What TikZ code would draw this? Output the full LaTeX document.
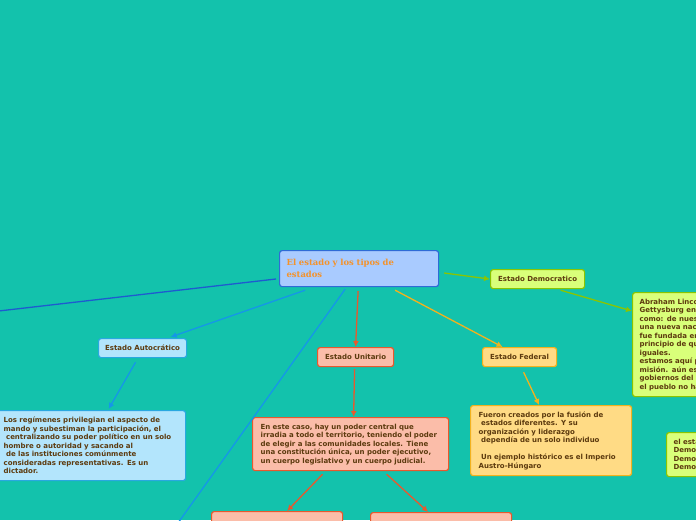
\documentclass[tikz,border=0pt]{standalone}
\usepackage{fontspec}
\setmainfont{DejaVu Sans}
\newfontfamily\titlefont{DejaVu Serif}
\usetikzlibrary{arrows.meta,calc}
\definecolor{bgc}{HTML}{13C2AC}
\definecolor{txt}{HTML}{5C3A0E}
\definecolor{tfill}{HTML}{A9CBFF}
\definecolor{tdraw}{HTML}{2F6BD6}
\definecolor{torange}{HTML}{F4922A}
\definecolor{gfill}{HTML}{D9FF7A}
\definecolor{gdraw}{HTML}{8BC500}
\definecolor{bfill}{HTML}{B3E5FC}
\definecolor{bdraw}{HTML}{29A8E0}
\definecolor{bline}{HTML}{1597E8}
\definecolor{rfill}{HTML}{FBBDA9}
\definecolor{rdraw}{HTML}{E8592E}
\definecolor{yfill}{HTML}{FFDB85}
\definecolor{ydraw}{HTML}{F2B21E}
\definecolor{dblue}{HTML}{1E5BD0}
\tikzset{
  box/.style={rectangle, rounded corners=2.5pt, line width=1.2pt, anchor=north west,
    inner sep=0pt, text=txt, font=\bfseries\fontsize{7}{8.5}\selectfont},
  labelbox/.style={box, align=center},
  textbox/.style={box, align=left, inner xsep=7pt},
  conn/.style={line width=1.3pt, -{Latex[length=6pt,width=6pt]}},
  plain/.style={line width=1.3pt},
}
\newcommand{\lsp}{\hspace*{2.5pt}}
\begin{document}
\begin{tikzpicture}[x=1pt,y=-1pt]
\fill[bgc] (0,0) rectangle (696,520);
\useasboundingbox (0,0) rectangle (696,520);
\clip (0,0) rectangle (696,520);

% main
\node[box, fill=tfill, draw=tdraw, minimum width=159pt, minimum height=36pt, align=left,
  text width=145pt, inner xsep=7pt, text=torange, font=\titlefont\bfseries\fontsize{8.4}{12}\selectfont]
  (main) at (279,250) {El estado y los tipos de\\estados};

% democratic branch
\node[labelbox, fill=gfill, draw=gdraw, minimum width=94pt, minimum height=19pt]
  (demo) at (490,269) {Estado Democratico};
\node[textbox, fill=gfill, draw=gdraw, minimum width=110pt, minimum height=104pt, text width=100pt]
  (abra) at (632,292) {Abraham Lincoln en su\\Gettysburg en 1863\\como:  de nuestros\\una nueva nación\\fue fundada en\\principio de que\\iguales.\\estamos aquí para\\misión. aún es\\gobiernos del pueblo\\el pueblo no ha};
\node[textbox, fill=gfill, draw=gdraw, minimum width=80pt, minimum height=44pt, text width=70pt]
  (elest) at (666,432) {el estado\\Democracia\\Democracia\\Democracia};

% autocratic branch
\node[labelbox, fill=bfill, draw=bdraw, minimum width=88pt, minimum height=19pt]
  (auto) at (98,338) {Estado Autocrático};
\node[textbox, fill=bfill, draw=bdraw, minimum width=190pt, minimum height=70pt, text width=186pt, inner xsep=2pt]
  (autot) at (-5,410) {\hspace*{6pt}Los regímenes  privilegian el aspecto de\\\hspace*{6pt}mando y subestiman la participación, el\\\hspace*{6pt}\lsp centralizando su poder político en un solo\\\hspace*{6pt}hombre o autoridad y sacando al\\\hspace*{6pt}\lsp de las instituciones comúnmente\\\hspace*{6pt}consideradas representativas. Es un\\\hspace*{6pt}dictador.};

% unitario branch
\node[labelbox, fill=rfill, draw=rdraw, minimum width=76pt, minimum height=19pt]
  (unit) at (317,347) {Estado Unitario};
\node[textbox, fill=rfill, draw=rdraw, minimum width=192pt, minimum height=53pt, text width=180pt, inner xsep=8pt]
  (unitt) at (252,417) {En este caso, hay un poder central que\\irradia a todo el territorio, teniendo el poder\\de elegir a las comunidades locales. Tiene\\una constitución única, un poder ejecutivo,\\un cuerpo legislativo y un cuerpo judicial.};
\node[box, fill=rfill, draw=rdraw, minimum width=129pt, minimum height=30pt, text width=115pt, inner xsep=8pt, align=left]
  (unitl) at (211,511) {\vspace*{-20pt}Estado Unitario Centralizado\\\ };
\node[box, fill=rfill, draw=rdraw, minimum width=141pt, minimum height=30pt]
  (unitr) at (370,512) {};

% federal branch
\node[labelbox, fill=yfill, draw=ydraw, minimum width=74pt, minimum height=19pt]
  (fed) at (482,347) {Estado Federal};
\node[textbox, fill=yfill, draw=ydraw, minimum width=156pt, minimum height=70pt, text width=145pt, inner xsep=8pt]
  (fedt) at (470,405) {Fueron creados por la fusión de\\\lsp estados diferentes. Y su\\organización y liderazgo\\\lsp dependía de un solo individuo\\[8.5pt]\lsp Un ejemplo histórico es el Imperio\\Austro-Húngaro};

% off-picture ends
\coordinate (farleft) at (-10,312);
\coordinate (farbottom) at (178,523);

% connectors
\draw[dblue, plain] ($(main.west |- 0,279)+(-3,0)$) -- (farleft);
\draw[bline, plain] ($(main.south)+(-14,2)$) -- (farbottom);
\draw[conn, gdraw] ($(main.east |- 0,273)+(5,0)$) -- (demo.west);
\draw[conn, gdraw] ($(demo.south)+(23,1)$) -- (abra.west |- 0,311);
\draw[conn, bline] ($(main.south)+(-54,3)$) -- ($(auto.north)+(28,-1)$);
\draw[conn, bline] ($(auto.south)+(-7,4)$) -- ($(autot.north)+(18,-1)$);
\draw[conn, rdraw] ($(main.south)+(-1,4)$) -- (unit.north);
\draw[conn, rdraw] ($(unit.south)+(-1,2)$) -- ($(unitt.north)+(3,0)$);
\draw[conn, ydraw] ($(main.south)+(36,3)$) -- ($(fed.north)+(-17,0)$);
\draw[conn, ydraw] ($(fed.south)+(4,5)$) -- ($(fedt.north)+(-12,0)$);
\draw[conn, rdraw] ($(unitt.south)+(-28,3)$) -- ($(unitl.north)+(10,0)$);
\draw[conn, rdraw] ($(unitt.south)+(36,3)$) -- ($(unitr.north)+(-13,0)$);
\end{tikzpicture}
\end{document}
